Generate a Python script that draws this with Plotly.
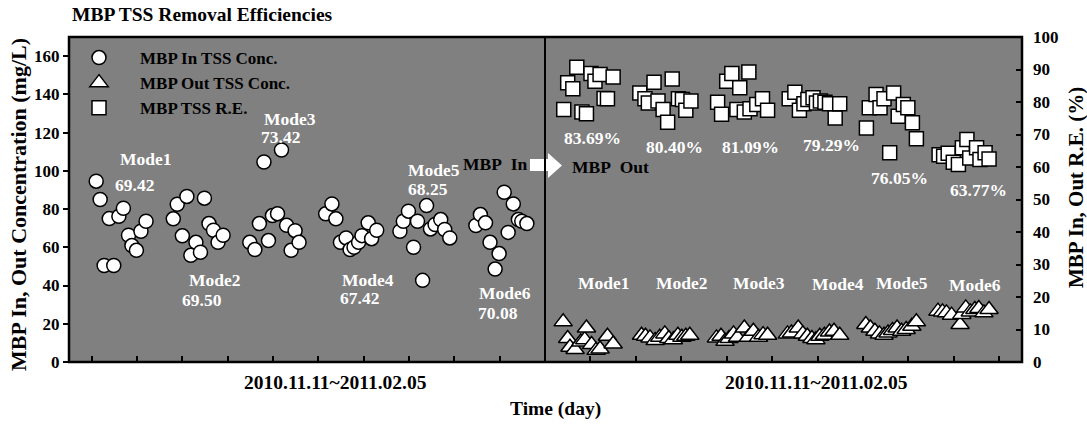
import plotly.graph_objects as go

# ---------------- data ----------------
title_text = "MBP TSS Removal Efficiencies"
modes = ["Mode1", "Mode2", "Mode3", "Mode4", "Mode5", "Mode6"]
in_mode_means = ["69.42", "69.50", "73.42", "67.42", "68.25", "70.08"]
re_mode_means = ["83.69%", "80.40%", "81.09%", "79.29%", "76.05%", "63.77%"]
period_label = "2010.11.11~2011.02.05"

# MBP In TSS concentration (mg/L), left panel
in_day = [4.8, 5.5, 6.2, 7.1, 7.9, 8.8, 9.6, 10.5, 11.1, 11.9, 12.7, 13.6,
          18.4, 19.1, 20.0, 20.8, 21.5, 22.4, 23.2, 23.9, 24.7, 25.5, 26.3, 27.2,
          31.9, 32.8, 33.6, 34.4, 35.2, 35.9, 36.8, 37.5, 38.4, 39.2, 39.9, 40.6,
          45.3, 46.4, 47.1, 47.9, 48.9, 49.6, 50.3, 51.1, 51.7, 52.8, 53.4, 54.3,
          58.4, 59.0, 59.9, 60.8, 61.5, 62.4, 63.1, 63.8, 64.6, 65.6, 66.3, 67.2,
          71.8, 72.6, 73.5, 74.3, 75.2, 75.9, 76.8, 77.5, 78.4, 79.3, 79.9, 80.8]
in_conc = [94.6, 85.0, 50.5, 75.0, 50.5, 76.2, 80.4, 66.3, 60.9, 58.4, 68.4, 73.6,
           74.9, 82.5, 66.0, 86.6, 55.8, 62.6, 57.4, 85.7, 72.4, 68.9, 62.6, 66.3,
           62.6, 58.8, 72.4, 104.6, 63.5, 76.6, 77.6, 110.9, 71.5, 58.4, 68.7, 62.6,
           77.5, 82.7, 74.9, 62.6, 64.9, 58.8, 60.0, 62.6, 66.1, 72.8, 64.5, 68.9,
           68.4, 73.6, 78.9, 60.0, 73.6, 42.7, 81.8, 69.6, 71.9, 74.5, 69.3, 64.9,
           71.4, 77.1, 72.8, 62.6, 48.6, 56.7, 88.8, 67.8, 82.7, 74.5, 73.6, 72.4]

# MBP Out TSS concentration (mg/L), right panel
out_day = [3.2, 4.0, 4.4, 5.3, 6.3, 7.0, 7.3, 8.2, 9.0, 9.7, 11.0, 12.0,
           17.0, 17.7, 18.5, 19.4, 20.2, 21.1, 21.8, 22.6, 23.4, 24.1, 24.8, 25.5,
           30.2, 31.0, 31.7, 32.4, 33.2, 33.9, 35.1, 35.8, 36.7, 37.6, 38.4, 39.2,
           42.7, 43.4, 44.6, 45.4, 46.2, 47.0, 47.7, 48.4, 49.2, 50.1, 50.9, 51.9,
           56.5, 57.3, 58.1, 58.9, 59.7, 60.4, 61.2, 62.0, 62.8, 63.6, 64.6, 65.4,
           69.2, 70.0, 70.7, 71.6, 73.1, 73.4, 74.1, 74.9, 75.7, 76.4, 77.3, 78.2]
out_conc = [21.0, 12.3, 7.7, 6.5, 10.5, 11.7, 17.8, 9.1, 6.1, 6.8, 13.5, 9.4,
            14.0, 13.5, 12.6, 11.2, 12.9, 14.7, 12.3, 11.7, 14.0, 12.9, 13.5, 14.0,
            12.6, 13.5, 10.8, 12.3, 14.7, 12.9, 17.8, 12.9, 16.1, 12.9, 14.3, 14.0,
            14.7, 15.2, 17.8, 14.7, 13.5, 12.3, 11.7, 13.5, 14.0, 15.7, 16.1, 14.0,
            19.6, 17.8, 16.1, 14.7, 14.0, 15.2, 16.5, 17.8, 16.1, 17.0, 18.7, 21.0,
            26.6, 26.2, 25.7, 24.5, 19.6, 24.9, 28.3, 26.2, 27.5, 28.0, 25.7, 27.5]

# MBP TSS removal efficiency (%), right panel
re_day = [3.3, 4.0, 4.9, 5.6, 6.5, 7.3, 8.1, 8.8, 9.7, 10.4, 11.0, 12.0,
          16.7, 17.6, 18.2, 19.2, 19.9, 20.8, 21.6, 22.4, 23.5, 24.2, 24.8, 25.7,
          30.4, 31.1, 32.0, 32.9, 33.8, 34.3, 35.1, 35.9, 36.1, 37.3, 38.3, 39.2,
          43.0, 44.0, 44.8, 45.6, 46.3, 47.2, 47.8, 48.5, 49.3, 50.1, 51.1, 51.9,
          56.6, 57.1, 58.3, 59.0, 59.7, 60.7, 61.4, 62.2, 63.1, 63.9, 64.7, 65.4,
          69.4, 70.2, 71.0, 71.9, 72.8, 73.5, 74.3, 74.8, 76.0, 76.6, 77.5, 78.2]
re_pct = [77.7, 85.9, 84.1, 90.7, 76.9, 76.4, 88.8, 86.4, 88.5, 81.1, 81.0, 87.7,
          82.8, 81.0, 79.7, 86.1, 80.3, 77.7, 73.8, 87.1, 81.0, 80.8, 77.5, 80.3,
          79.9, 76.2, 86.4, 88.8, 77.7, 84.4, 76.9, 89.2, 77.9, 79.2, 81.0, 77.5,
          81.0, 83.0, 77.5, 79.5, 80.8, 81.3, 79.7, 80.3, 79.9, 79.5, 75.1, 79.5,
          72.0, 78.2, 82.3, 78.2, 81.0, 64.4, 82.8, 75.6, 79.2, 78.2, 73.6, 68.7,
          63.8, 63.3, 64.2, 61.5, 60.8, 65.9, 68.5, 62.8, 65.9, 62.3, 64.4, 62.5]

left_y_ticks = [0, 20, 40, 60, 80, 100, 120, 140, 160]
right_y_ticks = [0, 10, 20, 30, 40, 50, 60, 70, 80, 90, 100]
left_x_ticks = [4, 12, 20, 28, 36, 44, 52, 60, 68, 76]
right_x_ticks = [8, 16, 24, 32, 40, 48, 56, 64, 72, 80]

# ---------------- layout helpers ----------------
W, H = 1087, 424
L, R, T, B = 69, 1022, 37, 362
SPLIT = 545


def fx(x):
    return (x - L) / (R - L)


def fy(y):
    return (B - y) / (B - T)


FONT = "Liberation Serif"
split_frac = fx(SPLIT)

fig = go.Figure()

fig.add_trace(go.Scatter(
    x=in_day, y=in_conc, mode="markers", name="MBP In TSS Conc.",
    xaxis="x", yaxis="y",
    marker=dict(symbol="circle", size=14, color="white",
                line=dict(color="black", width=1.5))))
fig.add_trace(go.Scatter(
    x=out_day, y=out_conc, mode="markers", name="MBP Out TSS Conc.",
    xaxis="x2", yaxis="y3",
    marker=dict(symbol="triangle-up", size=16, color="white",
                line=dict(color="black", width=1.5))))
fig.add_trace(go.Scatter(
    x=re_day, y=re_pct, mode="markers", name="MBP TSS R.E.",
    xaxis="x2", yaxis="y2",
    marker=dict(symbol="square", size=14, color="white",
                line=dict(color="black", width=1.5))))

tickfont = dict(family=FONT, size=17, color="black", weight="bold")

annotations = []


def add_text(text, x, y, size, color="white", xanchor="center"):
    annotations.append(dict(
        text=text, x=fx(x), y=fy(y), xref="paper", yref="paper",
        xanchor=xanchor, yanchor="middle", showarrow=False,
        font=dict(family=FONT, size=size, color=color, weight="bold")))


# title and axis texts
add_text(title_text, 70, 15, 19.5, color="black", xanchor="left")
add_text(period_label, 335, 383, 19.5, color="black")
add_text(period_label, 816, 383, 19.5, color="black")
add_text("Time (day)", 555, 409, 19.5, color="black")

# mode labels in left panel
in_mode_pos = [(146, 159), (215, 280), (290, 119), (368, 280), (434, 170), (505, 293)]
in_mean_pos = [(134, 185), (202, 300), (280, 137), (359, 298), (428, 189), (498, 313)]
for m, v, p1, p2 in zip(modes, in_mode_means, in_mode_pos, in_mean_pos):
    add_text(m, p1[0], p1[1], 17.5)
    add_text(v, p2[0], p2[1], 17.5)

# labels in right panel
re_mean_pos = [(592, 138), (674, 147), (750, 147), (831, 145), (899, 178), (978, 190)]
out_mode_pos = [(604, 283), (682, 283), (759, 283), (838, 284), (902, 283), (975, 285)]
for m, v, p1, p2 in zip(modes, re_mode_means, out_mode_pos, re_mean_pos):
    add_text(m, p1[0], p1[1], 17.5)
    add_text(v, p2[0], p2[1], 17.5)

add_text("MBP&nbsp;&nbsp;In", 495, 164, 17.5, color="black")
add_text("MBP&nbsp;&nbsp;Out", 610, 167, 17.5, color="black")

# y-axis titles
annotations.append(dict(
    text="MBP In, Out Concentration (mg/L)", x=fx(18), y=fy(205),
    xref="paper", yref="paper", textangle=-90, showarrow=False,
    xanchor="center", yanchor="middle",
    font=dict(family=FONT, size=22, color="black", weight="bold")))
annotations.append(dict(
    text="MBP In, Out R.E. (%)", x=fx(1076), y=fy(188),
    xref="paper", yref="paper", textangle=-90, showarrow=False,
    xanchor="center", yanchor="middle",
    font=dict(family=FONT, size=21, color="black", weight="bold")))

# block arrow MBP In -> MBP Out
ax = [530, 548, 548, 562, 548, 548, 530]
ay = [159, 159, 153, 165.5, 178, 171, 171]
path = "M " + " L ".join(f"{fx(a):.5f},{fy(b):.5f}" for a, b in zip(ax, ay)) + " Z"

shapes = [
    dict(type="path", path=path, xref="paper", yref="paper",
         fillcolor="white", line=dict(width=0)),
    dict(type="line", x0=split_frac, x1=split_frac, y0=0, y1=1,
         xref="paper", yref="paper", line=dict(color="black", width=2)),
    dict(type="rect", x0=0, x1=1, y0=0, y1=1, xref="paper", yref="paper",
         line=dict(color="black", width=2.5)),
]

fig.update_layout(
    width=W, height=H,
    margin=dict(l=L, r=W - R, t=T, b=H - B),
    paper_bgcolor="white",
    plot_bgcolor="#808080",
    showlegend=True,
    legend=dict(x=fx(58), y=fy(40), xanchor="left", yanchor="top",
                bgcolor="rgba(0,0,0,0)", borderwidth=0,
                font=dict(family=FONT, size=17, color="black", weight="bold"),
                itemsizing="trace", itemwidth=72, tracegroupgap=0),
    xaxis=dict(domain=[0, split_frac], range=[0, 84], tickvals=left_x_ticks,
               ticks="inside", ticklen=6, tickwidth=1.5, tickcolor="black",
               showticklabels=False, showgrid=False, zeroline=False, showline=False),
    xaxis2=dict(domain=[split_frac, 1], range=[0, 84], tickvals=right_x_ticks,
                ticks="inside", ticklen=6, tickwidth=1.5, tickcolor="black",
                showticklabels=False, showgrid=False, zeroline=False, showline=False,
                anchor="y2"),
    yaxis=dict(range=[0, 170], tickvals=left_y_ticks, ticks="outside",
               ticklen=5, tickwidth=1.5, tickcolor="black", tickfont=tickfont,
               showgrid=False, zeroline=False, showline=False, anchor="x"),
    yaxis2=dict(range=[0, 100], tickvals=right_y_ticks, ticks="inside",
                ticklen=6, tickwidth=1.5, tickcolor="black", tickfont=tickfont,
                side="right", anchor="x2", ticklabelstandoff=10,
                showgrid=False, zeroline=False, showline=False),
    yaxis3=dict(range=[0, 170], overlaying="y2", anchor="x2", visible=False,
                showgrid=False, zeroline=False),
    annotations=annotations,
    shapes=shapes,
)

fig.write_html("out.html")
